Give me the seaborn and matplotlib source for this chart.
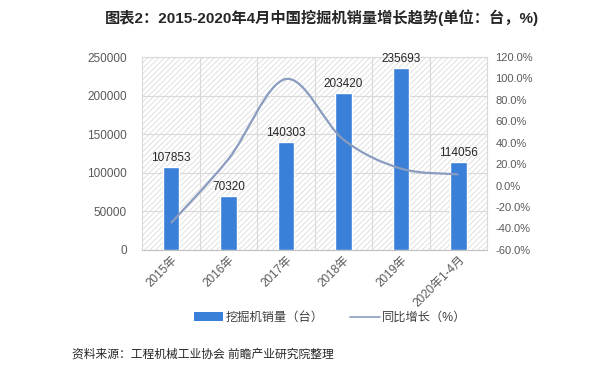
import matplotlib
matplotlib.use("Agg")
import matplotlib.pyplot as plt
import seaborn as sns
import numpy as np
import pandas as pd
from matplotlib.path import Path
from matplotlib.patches import PathPatch, Rectangle
from matplotlib.lines import Line2D
from matplotlib.ticker import FuncFormatter

categories = ["2015年", "2016年", "2017年", "2018年", "2019年", "2020年1-4月"]
sales = [107853, 70320, 140303, 203420, 235693, 114056]
growth = [-35.0, 24.8, 99.5, 43.0, 15.9, 10.5]

title = "图表2：2015-2020年4月中国挖掘机销量增长趋势(单位：台，%)"
source = "资料来源：工程机械工业协会 前瞻产业研究院整理"
bar_label = "挖掘机销量（台）"
line_label = "同比增长（%）"

sns.set_theme(style="white")
plt.rcParams['font.family'] = ['Liberation Sans', 'Noto Sans CJK SC', 'DejaVu Sans']
plt.rcParams['hatch.color'] = '#dcdcdc'
plt.rcParams['hatch.linewidth'] = 0.6

BAR = '#3a7fd8'
LINE = '#8a9cbf'
TICK = '#595959'

fig = plt.figure(figsize=(6.0, 3.73), dpi=100)
ax = fig.add_axes([0.237, 0.330, 0.575, 0.517])

df = pd.DataFrame({"cat": categories, "sales": sales})
sns.barplot(data=df, x="cat", y="sales", color=BAR, width=0.28, ax=ax,
            saturation=1, zorder=3)

ax.set_xlim(-0.5, len(categories) - 0.5)
ax.set_ylim(0, 250000)
ax.set_yticks(np.arange(0, 250001, 50000))
ax.set_xlabel("")
ax.set_ylabel("")

# hatched background
ax.add_patch(Rectangle((0, 0), 1, 1, transform=ax.transAxes, facecolor='white',
                       hatch='//////', edgecolor='#dcdcdc', linewidth=0, zorder=0))
for y in np.arange(50000, 250001, 50000):
    ax.axhline(y, color='#d9d9d9', lw=0.8, zorder=1)
for x in np.arange(0.5, len(categories) - 0.5, 1):
    ax.axvline(x, color='#d9d9d9', lw=0.8, zorder=1)

for s in ax.spines.values():
    s.set_color('#d9d9d9')
    s.set_linewidth(0.8)
ax.spines['bottom'].set_color('#bfbfbf')

ax.tick_params(axis='y', labelsize=8.5, colors=TICK, length=0, pad=11)
ax.tick_params(axis='x', labelsize=8.5, colors=TICK, length=0, pad=3)
for lbl in ax.get_xticklabels():
    lbl.set_rotation(45)
    lbl.set_ha('right')
    lbl.set_rotation_mode('anchor')

for i, v in enumerate(sales):
    ax.text(i, v + 4000, f"{v}", ha='center', va='bottom', fontsize=8.5,
            color='#262626', zorder=5)

ax2 = ax.twinx()
ax2.set_ylim(-60, 120)
ax2.set_yticks(np.arange(-60, 121, 20))
ax2.yaxis.set_major_formatter(FuncFormatter(lambda v, p: f"{v:.1f}%"))
ax2.tick_params(axis='y', labelsize=8, colors=TICK, length=0, pad=6)
for s in ax2.spines.values():
    s.set_visible(False)
ax2.grid(False)

# smoothed line (Bezier segments through the data points)
xs = np.arange(len(growth), dtype=float)
ys = np.array(growth, dtype=float)
pts = np.column_stack([xs, ys])
verts = [tuple(pts[0])]
codes = [Path.MOVETO]
n = len(pts)
for i in range(n - 1):
    p0 = pts[max(i - 1, 0)]
    p1 = pts[i]
    p2 = pts[i + 1]
    p3 = pts[min(i + 2, n - 1)]
    c1 = p1 + (p2 - p0) / 6.0
    c2 = p2 - (p3 - p1) / 6.0
    verts += [tuple(c1), tuple(c2), tuple(p2)]
    codes += [Path.CURVE4] * 3
ax2.add_patch(PathPatch(Path(verts, codes), fill=False, edgecolor=LINE, lw=1.6,
                        zorder=4))

# legend
handles = [Rectangle((0, 0), 1, 1, facecolor=BAR, edgecolor='none'),
           Line2D([0], [0], color=LINE, lw=1.2)]
fig.legend(handles, [bar_label, line_label], loc='center',
           bbox_to_anchor=(0.55, 0.148), ncol=2, frameon=False, fontsize=8.8,
           handlelength=2.4, handleheight=0.7, columnspacing=2.2,
           handletextpad=0.2, labelcolor='#404040')

fig.text(0.537, 0.952, title, ha='center', va='center', fontsize=11,
         fontweight='bold', color='#262626')
fig.text(0.12, 0.048, source, ha='left', va='center', fontsize=8.5,
         color='#262626')

fig.savefig("out.png", dpi=100)
